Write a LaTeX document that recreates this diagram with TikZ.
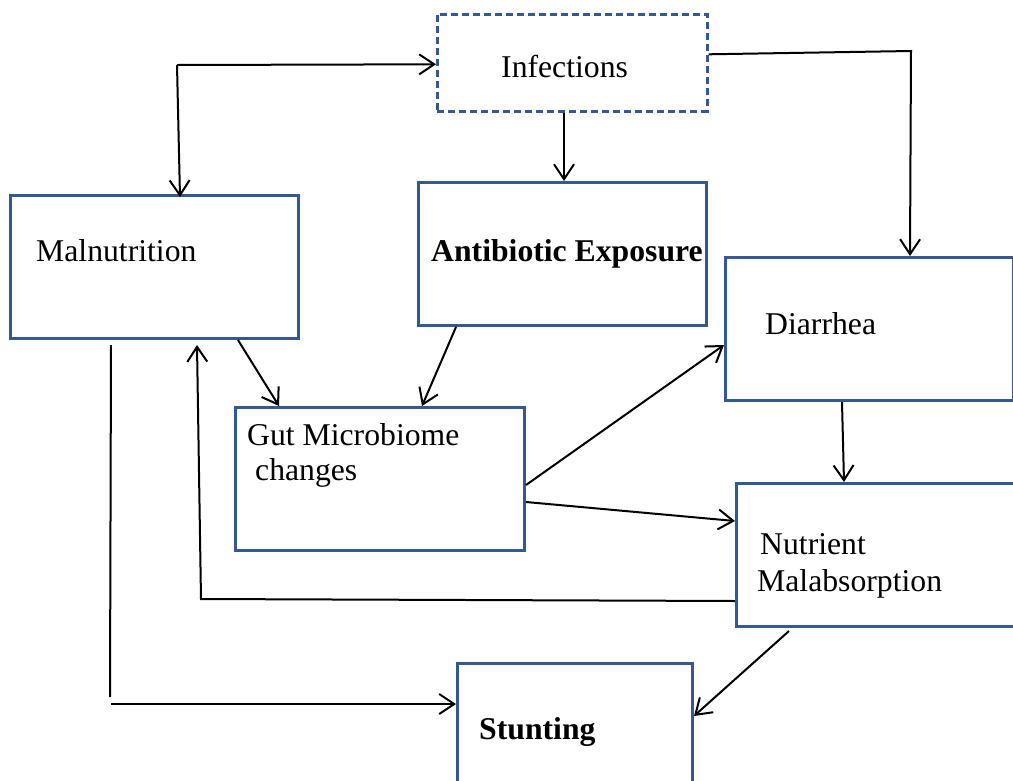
\documentclass[tikz,border=0pt]{standalone}
\usepackage{fontspec}
\setmainfont{Liberation Serif}
\usetikzlibrary{arrows.meta,calc}
\definecolor{boxblue}{RGB}{52,88,146}
\tikzset{
  box/.style={draw=boxblue, line width=3pt, anchor=north west, inner sep=0pt, rectangle},
  dbox/.style={box, line width=2.6pt, dashed, dash pattern=on 7pt off 4pt},
  lbl/.style={anchor=base west, inner sep=0pt, font=\fontsize{31.7}{35}\selectfont},
  blbl/.style={lbl, font=\fontsize{31.7}{35}\selectfont\bfseries},
  conn/.style={draw=black, line width=2pt},
  arr/.style={conn, -{Straight Barb[length=15pt,width=20pt,line width=2pt]}}
}
\begin{document}
\begin{tikzpicture}[x=1pt,y=-1pt]
\useasboundingbox (0,0) rectangle (1013,780);
\clip (0,0) rectangle (1013,780);
% boxes
\node[dbox, minimum width=270pt, minimum height=97pt] (inf) at (436,13) {};
\node[box, minimum width=288pt, minimum height=143pt] (mal) at (9,194) {};
\node[box, minimum width=288pt, minimum height=143pt] (anti) at (417,181) {};
\node[box, minimum width=288pt, minimum height=143pt] (dia) at (724,256) {};
\node[box, minimum width=289pt, minimum height=143pt] (gut) at (234,406) {};
\node[box, minimum width=290pt, minimum height=143pt] (nut) at (735,482) {};
\node[box, minimum width=235pt, minimum height=135pt] (stu) at (456,662) {};
% labels
\node[lbl] (tinf) at (501,77) {Infections};
\node[lbl] (tmal) at (36,261) {Malnutrition};
\node[blbl] (tanti) at (431,261) {Antibiotic Exposure};
\node[lbl] (tdia) at (765,334) {Diarrhea};
\node[lbl] (tgut1) at (247,445) {Gut Microbiome};
\node[lbl] (tgut2) at (255,480) {changes};
\node[lbl] (tnut1) at (760,554) {Nutrient};
\node[lbl] (tnut2) at (757,591) {Malabsorption};
\node[blbl] (tstu) at (479,739) {Stunting};
% corner coordinates
\coordinate (c1) at (177,65);
\coordinate (c2) at (911,51);
\coordinate (c3) at (201,599);
\coordinate (c4) at (110,697);
\coordinate (c5) at (111,704);
\coordinate (c6) at (111,345);
% connectors
\draw[arr] (c1) -- ([yshift=-1.5pt]inf.west);
\draw[arr] (c1) -- ([xshift=171pt,yshift=-3pt]mal.north west);
\draw[arr] ([yshift=8.5pt]inf.east) -- (c2) -- ([xshift=186pt]dia.north west);
\draw[arr] ([xshift=128pt]inf.south west) -- ([xshift=147pt]anti.north west);
\draw[arr] ([xshift=229pt]mal.south west) -- ([xshift=45pt]gut.north west);
\draw[arr] ([xshift=39pt]anti.south west) -- ([xshift=188pt]gut.north west);
\draw[arr] ([yshift=-79pt]gut.north east) -- ([yshift=-89pt]dia.north west);
\draw[arr] ([yshift=-96pt]gut.north east) -- ([yshift=-39pt]nut.north west);
\draw[arr] ([xshift=118pt]dia.south west) -- ([xshift=109pt]nut.north west);
\draw[arr] ([yshift=-119pt]nut.north west) -- (c3) -- ([xshift=188pt,yshift=-5pt]mal.south west);
\draw[conn] (c6) -- (c4);
\draw[arr] (c5) -- ([yshift=-42pt]stu.north west);
\draw[arr] ([xshift=54pt,yshift=-3pt]nut.south west) -- ([yshift=-54pt]stu.north east);
\end{tikzpicture}
\end{document}
